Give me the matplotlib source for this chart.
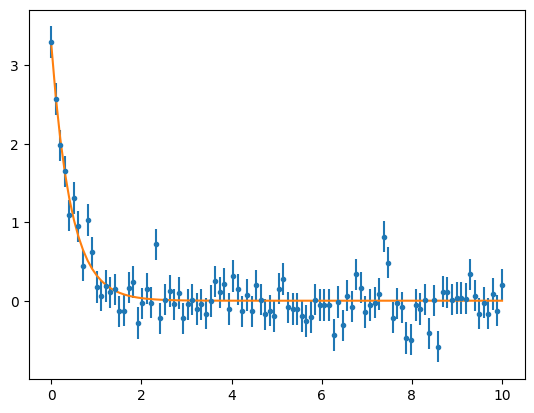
import numpy as np
import matplotlib
matplotlib.use("Agg")
import matplotlib.pyplot as plt

# measured data, 100 samples on [0, 10]
x_data = np.linspace(0, 10, 100)
y_data = [
    3.29, 2.57, 1.98, 1.65, 1.09, 1.31, 0.95, 0.45, 1.03, 0.62,
    0.18, 0.07, 0.19, 0.11, 0.15, -0.13, -0.12, 0.17, 0.24, -0.28,
    -0.03, 0.16, -0.02, 0.72, -0.22, 0.02, 0.13, -0.04, 0.10, -0.22,
    -0.04, 0.02, -0.10, -0.04, -0.16, 0.00, 0.25, 0.11, 0.22, -0.10,
    0.32, 0.15, -0.13, 0.08, -0.13, 0.20, 0.02, -0.17, -0.12, -0.19,
    0.16, 0.28, -0.08, -0.10, -0.10, -0.19, -0.25, -0.20, 0.02, -0.05,
    -0.05, -0.05, -0.43, -0.01, -0.31, 0.07, -0.07, 0.34, 0.17, -0.14,
    -0.05, -0.02, 0.09, 0.82, 0.49, -0.21, -0.03, -0.08, -0.47, -0.49,
    -0.05, -0.10, 0.02, -0.41, 0.01, -0.58, 0.12, 0.11, 0.02, 0.04,
    0.04, 0.03, 0.34, 0.07, -0.16, -0.02, -0.16, 0.09, -0.12, 0.21,
]
y_err = 0.2

# fitted model a * exp(-b x) + c
fit_a, fit_b, fit_c = 3.28, 2.3, 0.005


def model(x, a, b, c):
    return a * np.exp(-b * x) + c


fig, ax = plt.subplots(figsize=(6.4, 4.8), dpi=100)
ax.errorbar(x_data, y_data, yerr=y_err, fmt='.')
ax.plot(x_data, model(x_data, fit_a, fit_b, fit_c))
fig.savefig("out.png", dpi=100, bbox_inches="tight")
